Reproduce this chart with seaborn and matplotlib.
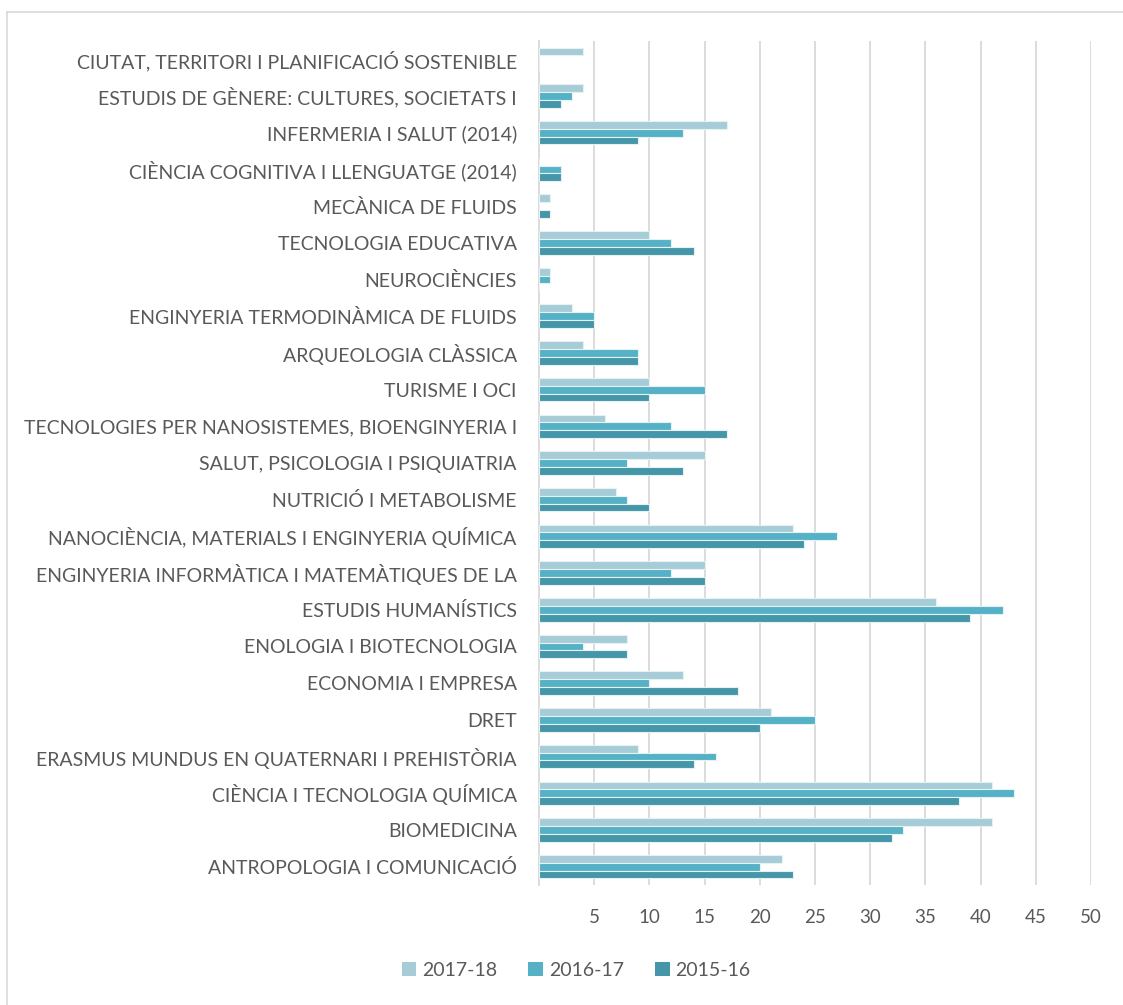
import pandas as pd
import matplotlib.pyplot as plt
import matplotlib.lines as mlines
from matplotlib.patches import Patch
import seaborn as sns

sns.set_theme(style="white")
plt.rcParams["font.family"] = ["Lato", "DejaVu Sans"]

programmes = [
    "CIUTAT, TERRITORI I PLANIFICACIÓ SOSTENIBLE",
    "ESTUDIS DE GÈNERE: CULTURES, SOCIETATS I",
    "INFERMERIA I SALUT (2014)",
    "CIÈNCIA COGNITIVA I LLENGUATGE (2014)",
    "MECÀNICA DE FLUIDS",
    "TECNOLOGIA EDUCATIVA",
    "NEUROCIÈNCIES",
    "ENGINYERIA TERMODINÀMICA DE FLUIDS",
    "ARQUEOLOGIA CLÀSSICA",
    "TURISME I OCI",
    "TECNOLOGIES PER NANOSISTEMES, BIOENGINYERIA I",
    "SALUT, PSICOLOGIA I PSIQUIATRIA",
    "NUTRICIÓ I METABOLISME",
    "NANOCIÈNCIA, MATERIALS I ENGINYERIA QUÍMICA",
    "ENGINYERIA INFORMÀTICA I MATEMÀTIQUES DE LA",
    "ESTUDIS HUMANÍSTICS",
    "ENOLOGIA I BIOTECNOLOGIA",
    "ECONOMIA I EMPRESA",
    "DRET",
    "ERASMUS MUNDUS EN QUATERNARI I PREHISTÒRIA",
    "CIÈNCIA I TECNOLOGIA QUÍMICA",
    "BIOMEDICINA",
    "ANTROPOLOGIA I COMUNICACIÓ",
]
y2017_18 = [4, 4, 17, 0, 1, 10, 1, 3, 4, 10, 6, 15, 7, 23, 15, 36, 8, 13, 21, 9, 41, 41, 22]
y2016_17 = [0, 3, 13, 2, 0, 12, 1, 5, 9, 15, 12, 8, 8, 27, 12, 42, 4, 10, 25, 16, 43, 33, 20]
y2015_16 = [0, 2, 9, 2, 1, 14, 0, 5, 9, 10, 17, 13, 10, 24, 15, 39, 8, 18, 20, 14, 38, 32, 23]
courses = ["2017-18", "2016-17", "2015-16"]
ticks = [5, 10, 15, 20, 25, 30, 35, 40, 45, 50]

df = pd.concat([
    pd.DataFrame({"programa": programmes, "curs": c, "valor": v})
    for c, v in zip(courses, [y2017_18, y2016_17, y2015_16])
])

palette = {"2017-18": "#A6CDD7", "2016-17": "#55B1C5", "2015-16": "#4496A8"}
text_col = "#595959"

fig = plt.figure(figsize=(11.23, 10.05), dpi=100)
ax = fig.add_axes([539 / 1123, 1 - 885 / 1005, (1091 - 539) / 1123, (885 - 41) / 1005])

sns.barplot(
    data=df, y="programa", x="valor", hue="curs",
    order=programmes, hue_order=courses, palette=palette,
    orient="h", width=0.64, ax=ax, edgecolor="#E6F1F4", linewidth=0.8,
    saturation=1, legend=False, zorder=3,
)

ax.set_xlim(0, 50)
ax.set_ylim(len(programmes) - 0.5, -0.5)
ax.set_xticks(ticks)
ax.set_xticklabels([str(t) for t in ticks])
ax.grid(True, axis="x", color="#D9D9D9", linewidth=1.3, zorder=0)
ax.set_xlabel("")
ax.set_ylabel("")
for s in ["top", "right", "bottom"]:
    ax.spines[s].set_visible(False)
ax.spines["left"].set_color("#D9D9D9")
ax.spines["left"].set_linewidth(1.3)
ax.tick_params(axis="both", length=0, colors=text_col)
ax.tick_params(axis="y", labelsize=14, pad=16)
ax.tick_params(axis="x", labelsize=13.5, pad=17)

handles = [Patch(facecolor=palette[c], edgecolor="none") for c in courses]
fig.legend(handles, courses, loc="center", bbox_to_anchor=(0.513, 1 - 970 / 1005),
           ncol=3, frameon=False, fontsize=14, handlelength=0.75, handleheight=0.75,
           handletextpad=0.3, columnspacing=1.6, labelcolor=text_col)

# chart frame (top and left edges visible)
fig.add_artist(mlines.Line2D([7 / 1123, 1], [1 - 12 / 1005, 1 - 12 / 1005],
                             color="#D9D9D9", linewidth=1.2, transform=fig.transFigure))
fig.add_artist(mlines.Line2D([7 / 1123, 7 / 1123], [0, 1 - 12 / 1005],
                             color="#D9D9D9", linewidth=1.2, transform=fig.transFigure))

fig.savefig("out.png", dpi=100)
